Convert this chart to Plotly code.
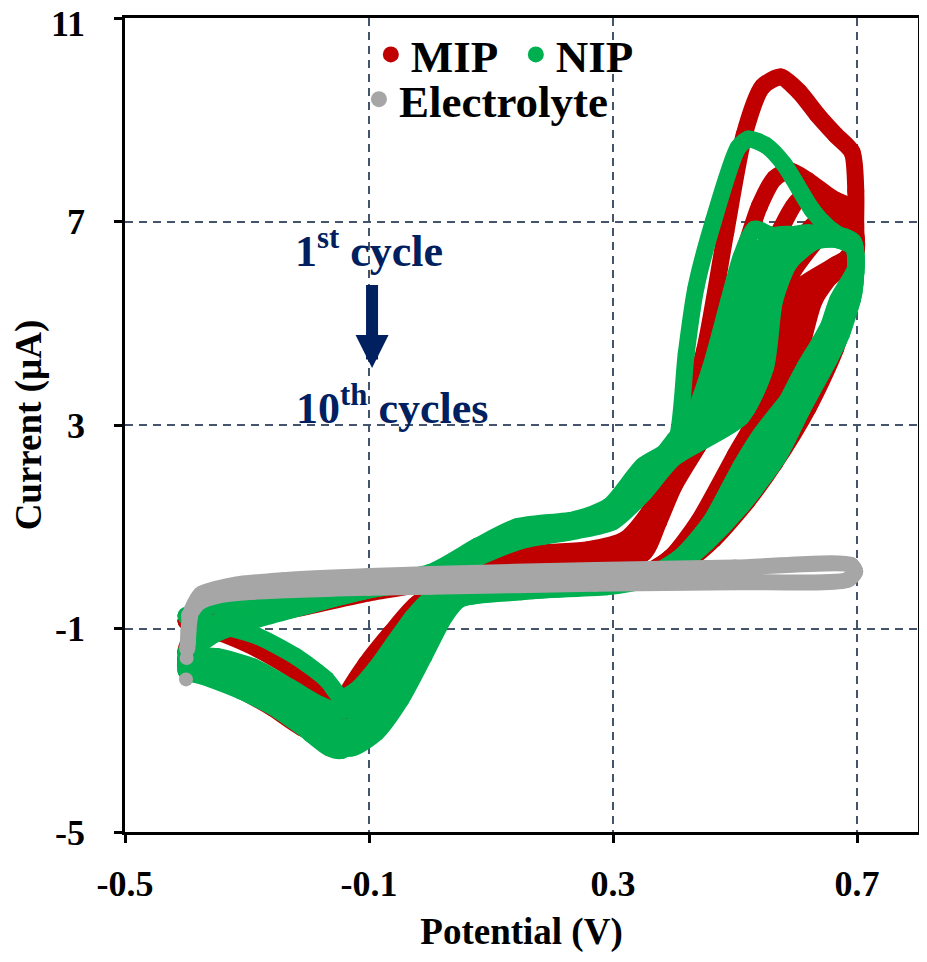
import plotly.graph_objects as go

# cyclic voltammograms: potential (V) and current (uA)
# each inner list is one scan cycle: forward -0.4 -> 0.7 V, then back to -0.4 V

MIP_E = [
    [-0.40, -0.36, -0.28, -0.20, -0.10, 0.00, 0.10, 0.18, 0.26, 0.32, 0.36, 0.39, 0.415, 0.45, 0.485, 0.515, 0.545, 0.575, 0.605, 0.635, 0.665, 0.692,
     0.698, 0.697, 0.694, 0.665, 0.62, 0.565, 0.52, 0.465, 0.425, 0.375, 0.30, 0.20, 0.10, 0.03, -0.02, -0.065, -0.105, -0.135, -0.152, -0.18, -0.22, -0.283, -0.34, -0.40],
    [-0.40, -0.385, -0.35, -0.29, -0.20, -0.10, 0.00, 0.10, 0.20, 0.30, 0.35, 0.38, 0.405, 0.44, 0.48, 0.51, 0.54, 0.565, 0.59, 0.62, 0.66, 0.693,
     0.698, 0.69, 0.655, 0.63, 0.60, 0.57, 0.535, 0.47, 0.42, 0.38, 0.33, 0.22, 0.10, 0.03, -0.02, -0.07, -0.115, -0.155, -0.20, -0.26, -0.32, -0.37, -0.40],
    [-0.40, -0.387, -0.35, -0.29, -0.20, -0.10, 0.00, 0.10, 0.20, 0.30, 0.35, 0.375, 0.40, 0.45, 0.50, 0.54, 0.575, 0.607, 0.64, 0.67, 0.694,
     0.698, 0.68, 0.635, 0.61, 0.585, 0.555, 0.52, 0.455, 0.41, 0.37, 0.32, 0.20, 0.08, 0.02, -0.03, -0.08, -0.125, -0.16, -0.20, -0.26, -0.32, -0.37, -0.40],
    [-0.40, -0.388, -0.35, -0.29, -0.20, -0.10, 0.00, 0.10, 0.20, 0.30, 0.35, 0.375, 0.40, 0.45, 0.50, 0.55, 0.59, 0.63, 0.665, 0.694,
     0.698, 0.67, 0.62, 0.595, 0.57, 0.545, 0.51, 0.445, 0.40, 0.36, 0.31, 0.20, 0.08, 0.02, -0.035, -0.085, -0.13, -0.165, -0.205, -0.26, -0.32, -0.37, -0.40],
    [-0.40, -0.389, -0.35, -0.29, -0.20, -0.10, 0.00, 0.10, 0.20, 0.30, 0.35, 0.375, 0.40, 0.44, 0.488, 0.54, 0.596, 0.64, 0.67, 0.694,
     0.698, 0.665, 0.61, 0.585, 0.56, 0.535, 0.50, 0.44, 0.395, 0.355, 0.31, 0.20, 0.08, 0.02, -0.04, -0.09, -0.135, -0.17, -0.21, -0.26, -0.32, -0.37, -0.40],
]
MIP_I = [
    [-0.85, -0.62, -0.50, -0.40, -0.22, 0.05, 0.32, 0.48, 0.55, 0.75, 1.30, 2.05, 3.10, 4.46, 6.80, 8.70, 9.65, 9.84, 9.55, 9.10, 8.70, 8.36,
     7.60, 6.60, 5.80, 4.50, 3.34, 2.25, 1.50, 0.75, 0.35, 0.08, -0.04, -0.12, -0.18, -0.28, -0.50, -1.10, -1.70, -2.25, -2.62, -2.25, -1.85, -1.40, -1.10, -0.85],
    [-1.45, -1.10, -0.85, -0.66, -0.48, -0.24, -0.02, 0.25, 0.45, 0.52, 0.75, 1.55, 2.15, 3.20, 4.90, 6.20, 7.30, 7.85, 8.00, 7.80, 7.45, 7.25,
     6.80, 6.40, 5.90, 5.45, 4.13, 3.15, 2.40, 1.30, 0.60, 0.20, 0.00, -0.12, -0.20, -0.38, -0.85, -1.70, -2.40, -2.65, -2.45, -2.10, -1.75, -1.52, -1.45],
    [-1.60, -1.25, -0.95, -0.72, -0.52, -0.27, -0.06, 0.20, 0.40, 0.47, 0.60, 1.30, 1.95, 3.05, 4.40, 5.70, 6.85, 7.45, 7.35, 7.10, 6.95,
     6.50, 6.15, 5.70, 5.45, 4.13, 3.15, 2.40, 1.20, 0.50, 0.15, -0.02, -0.14, -0.24, -0.50, -1.15, -2.00, -2.65, -2.85, -2.65, -2.30, -1.92, -1.68, -1.60],
    [-1.70, -1.32, -1.00, -0.76, -0.54, -0.28, -0.08, 0.17, 0.38, 0.44, 0.52, 1.20, 1.85, 2.80, 4.00, 5.30, 6.30, 6.95, 7.05, 6.90,
     6.40, 6.10, 5.70, 5.45, 4.13, 3.15, 2.40, 1.15, 0.45, 0.12, -0.03, -0.15, -0.26, -0.55, -1.25, -2.10, -2.80, -3.00, -2.85, -2.45, -2.05, -1.80, -1.70],
    [-1.75, -1.38, -1.04, -0.80, -0.56, -0.30, -0.10, 0.15, 0.36, 0.42, 0.48, 1.10, 1.80, 2.60, 3.60, 4.80, 6.04, 6.70, 6.90, 6.85,
     6.40, 6.15, 5.75, 5.45, 4.13, 3.15, 2.40, 1.10, 0.40, 0.10, -0.03, -0.15, -0.27, -0.58, -1.30, -2.20, -2.90, -3.10, -2.95, -2.55, -2.15, -1.85, -1.75],
]

NIP_E = [
    [-0.40, -0.36, -0.28, -0.20, -0.105, 0.00, 0.078, 0.143, 0.24, 0.294, 0.349, 0.386, 0.405, 0.42, 0.436, 0.465, 0.505, 0.522, 0.55, 0.58, 0.627, 0.652, 0.694,
     0.698, 0.695, 0.675, 0.655, 0.61, 0.57, 0.51, 0.455, 0.415, 0.365, 0.28, 0.15, 0.05, 0.00, -0.03, -0.06, -0.09, -0.12, -0.145, -0.17, -0.22, -0.283, -0.34, -0.40],
    [-0.40, -0.385, -0.345, -0.28, -0.20, -0.10, 0.00, 0.08, 0.15, 0.24, 0.30, 0.35, 0.40, 0.43, 0.46, 0.49, 0.51, 0.532, 0.555, 0.59, 0.63, 0.665, 0.694,
     0.698, 0.692, 0.67, 0.645, 0.60, 0.563, 0.50, 0.445, 0.405, 0.36, 0.28, 0.15, 0.05, 0.01, -0.025, -0.065, -0.105, -0.145, -0.18, -0.23, -0.29, -0.35, -0.40],
    [-0.40, -0.387, -0.35, -0.283, -0.20, -0.10, 0.00, 0.08, 0.15, 0.24, 0.30, 0.35, 0.40, 0.45, 0.485, 0.51, 0.535, 0.56, 0.59, 0.63, 0.665, 0.694,
     0.698, 0.688, 0.66, 0.635, 0.59, 0.555, 0.49, 0.435, 0.395, 0.355, 0.28, 0.15, 0.05, 0.015, -0.02, -0.06, -0.10, -0.14, -0.18, -0.225, -0.29, -0.35, -0.40],
    [-0.40, -0.388, -0.35, -0.283, -0.20, -0.10, 0.00, 0.08, 0.15, 0.24, 0.30, 0.35, 0.40, 0.47, 0.51, 0.53, 0.555, 0.585, 0.62, 0.66, 0.694,
     0.698, 0.682, 0.65, 0.625, 0.58, 0.548, 0.48, 0.425, 0.385, 0.35, 0.28, 0.15, 0.05, 0.02, -0.015, -0.055, -0.095, -0.135, -0.175, -0.215, -0.28, -0.34, -0.40],
    [-0.40, -0.389, -0.35, -0.283, -0.20, -0.10, 0.00, 0.08, 0.15, 0.24, 0.30, 0.35, 0.40, 0.49, 0.53, 0.55, 0.575, 0.61, 0.65, 0.68, 0.694,
     0.698, 0.675, 0.64, 0.615, 0.57, 0.54, 0.47, 0.415, 0.375, 0.345, 0.28, 0.15, 0.05, 0.025, -0.01, -0.048, -0.088, -0.128, -0.163, -0.20, -0.25, -0.31, -0.37, -0.40],
    [-0.40, -0.39, -0.35, -0.283, -0.20, -0.105, 0.00, 0.08, 0.15, 0.24, 0.30, 0.35, 0.40, 0.51, 0.55, 0.565, 0.59, 0.63, 0.665, 0.694,
     0.698, 0.668, 0.634, 0.59, 0.543, 0.51, 0.46, 0.41, 0.37, 0.34, 0.29, 0.10, 0.03, 0.02, -0.01, -0.047, -0.10, -0.12, -0.145, -0.165, -0.195, -0.228, -0.31, -0.37, -0.40],
]
NIP_I = [
    [-0.75, -0.56, -0.44, -0.34, -0.12, 0.10, 0.62, 1.00, 1.15, 1.41, 2.20, 2.47, 2.75, 4.40, 5.70, 7.02, 8.45, 8.62, 8.50, 8.13, 7.22, 6.89, 6.50,
     6.10, 5.60, 4.80, 4.30, 3.30, 2.36, 1.40, 0.70, 0.30, 0.02, -0.08, -0.15, -0.25, -0.42, -0.80, -1.30, -1.80, -2.20, -2.35, -2.00, -1.55, -1.15, -0.95, -0.75],
    [-1.50, -1.15, -0.85, -0.66, -0.50, -0.22, 0.05, 0.55, 0.95, 1.10, 1.35, 1.95, 2.70, 3.15, 4.13, 5.45, 6.30, 6.85, 6.75, 6.60, 6.62, 6.65, 6.50,
     6.00, 5.45, 4.80, 4.20, 3.20, 2.36, 1.30, 0.62, 0.25, 0.00, -0.10, -0.18, -0.28, -0.60, -1.20, -1.95, -2.45, -2.62, -2.50, -2.15, -1.75, -1.55, -1.50],
    [-1.65, -1.28, -0.95, -0.73, -0.52, -0.23, 0.00, 0.50, 0.88, 1.03, 1.28, 1.88, 2.60, 3.15, 4.13, 5.45, 6.30, 6.70, 6.75, 6.65, 6.65, 6.50,
     6.00, 5.45, 4.75, 4.20, 3.20, 2.36, 1.25, 0.55, 0.20, -0.02, -0.12, -0.22, -0.33, -0.65, -1.35, -2.15, -2.75, -2.95, -2.85, -2.45, -2.00, -1.75, -1.65],
    [-1.72, -1.35, -1.00, -0.77, -0.53, -0.24, -0.02, 0.45, 0.82, 0.98, 1.22, 1.80, 2.50, 3.15, 4.13, 5.45, 6.30, 6.70, 6.78, 6.70, 6.55,
     6.05, 5.45, 4.70, 4.15, 3.15, 2.36, 1.20, 0.50, 0.15, -0.04, -0.14, -0.25, -0.38, -0.70, -1.45, -2.30, -2.95, -3.22, -3.12, -2.78, -2.30, -1.95, -1.72],
    [-1.78, -1.40, -1.05, -0.80, -0.54, -0.24, -0.04, 0.42, 0.77, 0.95, 1.16, 1.72, 2.42, 3.15, 4.13, 5.45, 6.30, 6.70, 6.75, 6.70, 6.60,
     6.10, 5.45, 4.65, 4.15, 3.10, 2.36, 1.15, 0.45, 0.12, -0.06, -0.16, -0.28, -0.42, -0.75, -1.55, -2.40, -3.05, -3.35, -3.30, -3.02, -2.60, -2.15, -1.90, -1.78],
    [-1.83, -1.45, -1.10, -0.82, -0.55, -0.24, -0.05, 0.40, 0.73, 0.92, 1.10, 1.65, 2.35, 3.15, 4.13, 5.45, 6.20, 6.60, 6.70, 6.60,
     6.10, 5.45, 4.27, 3.55, 2.83, 2.20, 1.10, 0.40, 0.10, -0.08, -0.18, -0.30, -0.50, -0.80, -1.40, -1.95, -2.82, -3.15, -3.40, -3.35, -3.08, -2.74, -2.23, -1.95, -1.83],
]

# blank electrolyte, first three points are the isolated start-up dots
ELEC_E = [-0.400, -0.399, -0.398, -0.397, -0.396, -0.394, -0.390, -0.375, -0.32, -0.24, -0.10, 0.00, 0.27, 0.50, 0.69,
          0.697, 0.685, 0.50, 0.27, 0.00, -0.10, -0.29, -0.35, -0.38, -0.395]
ELEC_I = [-2.00, -1.58, -1.40, -1.28, -1.05, -0.80, -0.62, -0.32, -0.14, -0.05, 0.03, 0.07, 0.15, 0.20, 0.25,
          0.12, -0.04, -0.09, -0.12, -0.18, -0.20, -0.28, -0.36, -0.50, -0.75]

X_TICKS = [-0.5, -0.1, 0.3, 0.7]
X_LABELS = ["-0.5", "-0.1", "0.3", "0.7"]
Y_TICKS = [-5, -1, 3, 7, 11]
Y_LABELS = ["-5", "-1", "3", "7", "11"]

RED = "#C00000"
GREEN = "#00B050"
GRAY = "#A6A6A6"
NAVY = "#002060"
FONT = "Liberation Serif"
W = 17

fig = go.Figure()


def add_cycles(es, cs, color):
    for e, c in zip(es, cs):
        fig.add_trace(go.Scatter(
            x=e, y=c, mode="lines+markers",
            line=dict(color=color, width=W, shape="spline", smoothing=0.7),
            marker=dict(color=color, size=W),
            showlegend=False, hoverinfo="skip",
        ))


add_cycles(MIP_E, MIP_I, RED)
add_cycles(NIP_E, NIP_I, GREEN)

fig.add_trace(go.Scatter(
    x=ELEC_E[:3], y=ELEC_I[:3], mode="markers",
    marker=dict(color=GRAY, size=14), showlegend=False, hoverinfo="skip",
))
fig.add_trace(go.Scatter(
    x=ELEC_E[2:], y=ELEC_I[2:], mode="lines+markers",
    line=dict(color=GRAY, width=16, shape="spline", smoothing=0.7),
    marker=dict(color=GRAY, size=16), showlegend=False, hoverinfo="skip",
))

# legend-only entries
for name, color, leg in [("MIP", RED, "legend"), ("NIP", GREEN, "legend"), ("Electrolyte", GRAY, "legend2")]:
    fig.add_trace(go.Scatter(
        x=[None], y=[None], mode="markers", name=name, legend=leg,
        marker=dict(color=color, size=16),
    ))

fig.add_annotation(x=-0.1, y=6.47, text="1<sup>st</sup> cycle", showarrow=False,
                   font=dict(family=FONT, size=44, color=NAVY, weight="bold"))
fig.add_annotation(x=-0.063, y=3.38, text="10<sup>th</sup> cycles", showarrow=False,
                   font=dict(family=FONT, size=44, color=NAVY, weight="bold"))
fig.add_annotation(x=-0.095, y=4.12, ax=-0.095, ay=5.78, axref="x", ayref="y",
                   text="", showarrow=True, arrowhead=2, arrowsize=0.55, arrowwidth=12,
                   arrowcolor=NAVY)

tick_font = dict(family=FONT, size=36, color="black", weight="bold")

# top y label sits on the page edge, so it is placed a little lower by hand
fig.add_annotation(xref="paper", x=0, xanchor="right", xshift=-38,
                   y=Y_TICKS[-1], yanchor="middle", yshift=-6,
                   text=Y_LABELS[-1], showarrow=False, font=tick_font)

axis_common = dict(
    showline=True, linecolor="black", linewidth=2.5, mirror=True,
    ticks="outside", ticklen=8, tickwidth=2.5, tickcolor="black",
    showgrid=True, gridcolor="#44546A", gridwidth=1.5, griddash="8px,6px",
    zeroline=False, automargin=False,
    tickfont=tick_font,
)

fig.update_xaxes(range=[-0.5, 0.8], tickvals=X_TICKS, ticktext=X_LABELS,
                 title=dict(text="Potential (V)", standoff=16,
                            font=dict(family=FONT, size=37, color="black", weight="bold")),
                 ticklabelstandoff=10, **axis_common)
fig.update_yaxes(range=[-5, 11], tickvals=Y_TICKS, ticktext=Y_LABELS[:-1] + [""],
                 title=dict(text="Current (µA)", standoff=14,
                            font=dict(family=FONT, size=37, color="black", weight="bold")),
                 ticklabelstandoff=22, **axis_common)

legend_font = dict(family=FONT, size=45, color="black", weight="bold")
fig.update_layout(
    width=911, height=946,
    margin=dict(l=117, r=1, t=10, b=122),
    plot_bgcolor="white", paper_bgcolor="white",
    legend=dict(orientation="h", x=0.31, y=0.955, xanchor="left", yanchor="middle",
                font=legend_font, bgcolor="rgba(0,0,0,0)", itemsizing="trace",
                entrywidth=100, tracegroupgap=0),
    legend2=dict(orientation="h", x=0.295, y=0.90, xanchor="left", yanchor="middle",
                 font=legend_font, bgcolor="rgba(0,0,0,0)", itemsizing="trace"),
)

fig.write_html("out.html")
